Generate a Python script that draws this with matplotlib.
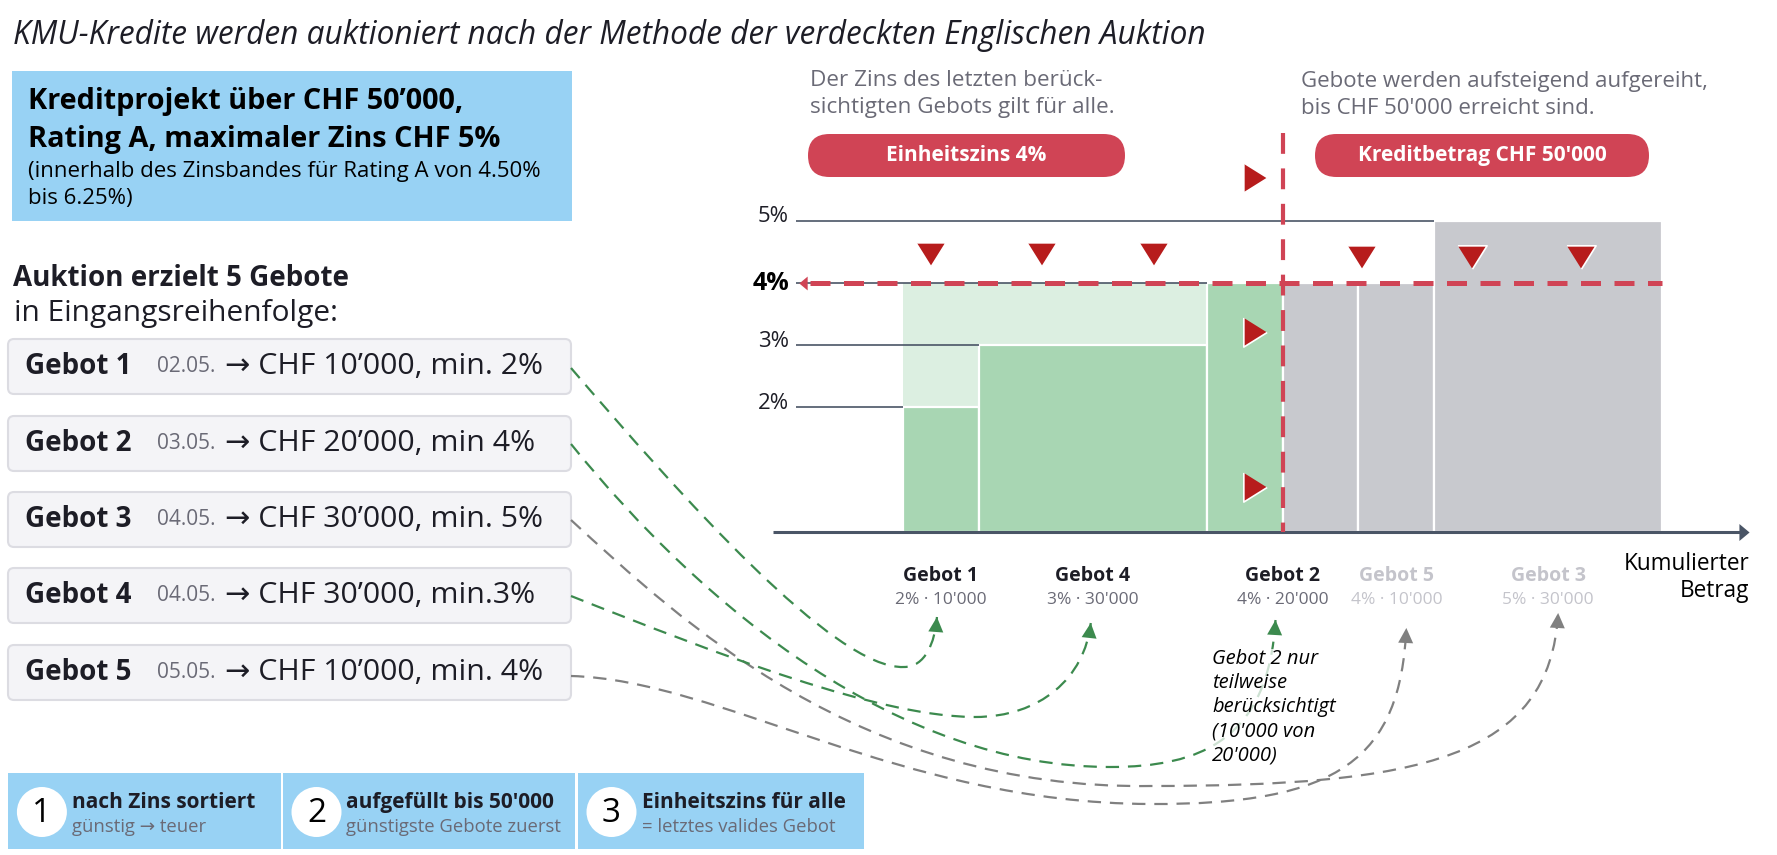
import matplotlib
matplotlib.use('Agg')
import matplotlib.pyplot as plt
import matplotlib.transforms as mtransforms
from matplotlib.patches import FancyBboxPatch, Rectangle, Circle, PathPatch, Polygon
from matplotlib.path import Path
import numpy as np

plt.rcParams['font.family'] = ['Open Sans', 'DejaVu Sans']

# ─────────────────────────────────────────────
# DATA
# ─────────────────────────────────────────────
bid_names   = ['Gebot 1', 'Gebot 2', 'Gebot 3', 'Gebot 4', 'Gebot 5']
bid_dates   = ['02.05.', '03.05.', '04.05.', '04.05.', '05.05.']
bid_amounts = [10000, 20000, 30000, 30000, 10000]
bid_rates   = [2, 4, 5, 3, 4]
bid_texts   = ['→ CHF 10’000, min. 2%', '→ CHF 20’000, min 4%',
               '→ CHF 30’000, min. 5%', '→ CHF 30’000, min.3%',
               '→ CHF 10’000, min. 4%']
credit_amount = 50000
rate_ticks = [2, 3, 4, 5]

title = 'KMU-Kredite werden auktioniert nach der Methode der verdeckten Englischen Auktion'
project_lines = ['Kreditprojekt über CHF 50’000,', 'Rating A, maximaler Zins CHF 5%']
project_note = ['(innerhalb des Zinsbandes für Rating A von 4.50%', 'bis 6.25%)']
step_titles = ['nach Zins sortiert', 'aufgefüllt bis 50\'000', 'Einheitszins für alle']
step_notes  = ['günstig → teuer', 'günstigste Gebote zuerst', '= letztes valides Gebot']

# ─────────────────────────────────────────────
# COLOURS / LAYOUT
# ─────────────────────────────────────────────
DARK = '#1d1d26'
GREY_TXT = '#6a6a76'
PALE = '#c4c4cb'
BLUE = '#98d2f4'
GREEN = '#a8d6b3'
LIGHT_GREEN = '#dcefe1'
GREY = '#c8c9ce'
RED = '#d04455'
DARK_RED = '#b71c1c'
AXIS = '#4a5566'
LINE_GREEN = '#3c8a4e'
LINE_GREY = '#808080'

W, H = 1777, 855
X0_PX, PX_PER_CHF = 903, 0.00759
Y0_PX, PX_PER_PCT = 532, 62.3
AX_L, AX_R, AX_T = 773, 1749, 121

fig = plt.figure(figsize=(W / 100, H / 100), dpi=100)
ov = fig.add_axes([0, 0, 1, 1])
ov.set_xlim(0, W)
ov.set_ylim(H, 0)
ov.axis('off')

ax = fig.add_axes([AX_L / W, (H - Y0_PX) / H, (AX_R - AX_L) / W, (Y0_PX - AX_T) / H])
ax.set_xlim((AX_L - X0_PX) / PX_PER_CHF, (AX_R - X0_PX) / PX_PER_CHF)
ax.set_ylim(0, (Y0_PX - AX_T) / PX_PER_PCT)
ax.axis('off')
ax.patch.set_alpha(0)


def chf(px):
    return (px - X0_PX) / PX_PER_CHF


def pct(py):
    return (Y0_PX - py) / PX_PER_PCT


# ─────────────────────────────────────────────
# LEFT PANEL
# ─────────────────────────────────────────────
ov.text(13, 35, title, fontsize=22.8, style='italic', color=DARK, va='center')

ov.add_patch(Rectangle((11.5, 71), 560.5, 150, color=BLUE, lw=0))
ov.text(27.6, 102, project_lines[0], fontsize=20.8, weight='bold', color='black', va='center')
ov.text(27.6, 139, project_lines[1], fontsize=20.8, weight='bold', color='black', va='center')
ov.text(27.6, 172, project_note[0], fontsize=16, color='black', va='center')
ov.text(27.6, 198, project_note[1], fontsize=16, color='black', va='center')

ov.text(13, 278, 'Auktion erzielt 5 Gebote', fontsize=20, weight='bold', color=DARK, va='center')
ov.text(14, 313, 'in Eingangsreihenfolge:', fontsize=21.5, color=DARK, va='center')

box_tops = [339, 416, 492, 568, 645]
box_h = 55
for i, top in enumerate(box_tops):
    ov.add_patch(FancyBboxPatch((8, top), 563, box_h,
                                boxstyle='round,pad=0,rounding_size=6',
                                fc='#f4f4f7', ec='#dcdce2', lw=1.5))
    cy = top + box_h / 2
    ov.text(25, cy, bid_names[i], fontsize=20, weight='bold', color=DARK, va='center')
    ov.text(157, cy, bid_dates[i], fontsize=15, color=GREY_TXT, va='center')
    ov.text(225, cy, bid_texts[i], fontsize=21.8, color=DARK, va='center')

step_boxes = [(8.4, 272.2), (283, 292), (578, 286)]
for k, (bx, bw) in enumerate(step_boxes):
    ov.add_patch(Rectangle((bx, 773), bw, 76, color=BLUE, lw=0))
    ov.add_patch(Circle((bx + 33.5, 812), 25, color='white', lw=0))
    ov.text(bx + 33.5, 813, str(k + 1), fontsize=24, color='black', ha='center', va='center')
    ov.text(bx + 63.5, 802, step_titles[k], fontsize=15, weight='bold', color=DARK, va='center')
    ov.text(bx + 63.5, 827, step_notes[k], fontsize=13.3, color=GREY_TXT, va='center')

# ─────────────────────────────────────────────
# CHART
# ─────────────────────────────────────────────
order = sorted(range(len(bid_names)), key=lambda i: bid_rates[i])
starts, ends = {}, {}
cum = 0
for i in order:
    starts[i] = cum
    cum += bid_amounts[i]
    ends[i] = cum
clearing = next(i for i in order if ends[i] >= credit_amount)
clearing_rate = bid_rates[clearing]

for i in order:
    s, e, r = starts[i], ends[i], bid_rates[i]
    if s < credit_amount:
        a_end = min(e, credit_amount)
        if r < clearing_rate:
            ax.bar(s, clearing_rate - r, width=a_end - s, bottom=r, align='edge',
                   color=LIGHT_GREEN, lw=0, zorder=1)
        ax.bar(s, r, width=a_end - s, align='edge', color=GREEN,
               edgecolor='white', lw=1.6, zorder=2)
    if e > credit_amount:
        g0 = max(s, credit_amount)
        ax.bar(g0, r, width=e - g0, align='edge', color=GREY,
               edgecolor='white', lw=1.6, zorder=2)

# rate lines and labels
line_start = chf(796)
for t in rate_ticks:
    first = min(starts[i] for i in order if bid_rates[i] == t)
    ax.plot([line_start, first], [t, t], color=AXIS, lw=1.2, zorder=3,
            solid_capstyle='butt')
    if t == clearing_rate:
        ax.text(chf(789), t - 0.01, f'{t}%', fontsize=18, weight='bold', color='black',
                ha='right', va='center')
    else:
        ax.text(chf(789), t + 0.06, f'{t}%', fontsize=16, color=DARK,
                ha='right', va='center')

# x axis with arrow
ax.plot([ax.get_xlim()[0], chf(1741)], [0, 0], color=AXIS, lw=2.2, zorder=5,
        solid_capstyle='butt', clip_on=False)
ax.plot([chf(1744)], [0], marker=[(-0.6, 1), (0.6, 0), (-0.6, -1)], ms=12.2,
        color=AXIS, mew=0, zorder=5, clip_on=False)

# red dashed clearing lines
ax.plot([chf(810), max(ends.values())], [clearing_rate] * 2, color=RED, lw=3.6,
        dashes=(4, 2.7), dash_capstyle='butt', zorder=6)
ax.plot([chf(803)], [clearing_rate], marker=[(0.6, 1), (-0.6, 0), (0.6, -1)],
        ms=10, color=RED, mew=0, zorder=6, clip_on=False)
ax.plot([credit_amount] * 2, [pct(133), 0], color=RED, lw=3, dashes=(5, 3.5),
        dash_capstyle='butt', zorder=6)

# decorative triangles
down_x = [chf(p) for p in (931, 1042, 1154, 1362, 1472, 1581)]
ax.plot(down_x, [pct(254)] * 3 + [pct(257)] * 3, ls='none',
        marker=[(-1, 0.8), (1, 0.8), (0, -0.8)], ms=21, color=DARK_RED,
        mec='white', mew=1.2, zorder=7)
ax.plot([chf(1255)] * 3, [pct(178), pct(332), pct(487)], ls='none',
        marker=[(-0.8, 1), (-0.8, -1), (0.8, 0)], ms=21, color=DARK_RED,
        mec='white', mew=1.2, zorder=7)

# headline texts and pills
ov.text(810, 81, 'Der Zins des letzten berück-', fontsize=16.2, color=GREY_TXT, va='center')
ov.text(810, 108, 'sichtigten Gebots gilt für alle.', fontsize=16.2, color=GREY_TXT, va='center')
ov.text(1301, 81, 'Gebote werden aufsteigend aufgereiht,', fontsize=16, color=GREY_TXT, va='center')
ov.text(1301, 108, 'bis CHF 50\'000 erreicht sind.', fontsize=16, color=GREY_TXT, va='center')

pills = [(808, 1125, f'Einheitszins {clearing_rate}%'),
         (1315, 1649, f'Kreditbetrag CHF {credit_amount:,}'.replace(',', "'"))]
for x0, x1, txt in pills:
    ov.add_patch(FancyBboxPatch((x0, 134), x1 - x0, 43,
                                boxstyle='round,pad=0,rounding_size=21.5',
                                fc=RED, ec='none'))
    ov.text((x0 + x1) / 2, 155.5, txt, fontsize=15, weight='bold', color='white',
            ha='center', va='center')

# labels under the axis
lab_tr = mtransforms.blended_transform_factory(ax.transData, ov.transData)
label_px = {}
for i in order:
    cx = (starts[i] + ends[i]) / 2
    ok = starts[i] < credit_amount
    ax.text(cx, 576, bid_names[i], transform=lab_tr, fontsize=14, weight='bold',
            color=DARK if ok else PALE, ha='center', va='center', clip_on=False)
    val = f"{bid_rates[i]}% · {bid_amounts[i]:,}".replace(',', "'")
    ax.text(cx, 600, val, transform=lab_tr, fontsize=12.5,
            color=GREY_TXT if ok else PALE, ha='center', va='center', clip_on=False)
    label_px[i] = ov.transData.inverted().transform(ax.transData.transform((cx, 0)))[0]

ov.text(1749, 564, 'Kumulierter', fontsize=16.3, color='black', ha='right', va='center')
ov.text(1749, 591, 'Betrag', fontsize=16.3, color='black', ha='right', va='center')

# ─────────────────────────────────────────────
# CONNECTORS
# ─────────────────────────────────────────────
tip_dx = [-4, -7, 10, -2, 10]
tip_y  = [617, 620, 613, 623, 628]
curves = [
    [(571, 368), (680, 495), (835, 670), (904, 667), (925, 667)],
    [(571, 444), (705, 610), (900, 767), (1110, 767), (1200, 767)],
    [(571, 520), (680, 620), (860, 790), (1150, 786), (1420, 786)],
    [(571, 596), (720, 655), (880, 717), (975, 717), (1040, 717)],
    [(571, 676), (720, 680), (900, 803), (1150, 804), (1340, 805)],
]
last_ctrl = [(-2, 26), (-7, 120), (-8, 145), (-6, 55), (-6, 130)]

for i in range(len(bid_names)):
    accepted = starts[i] < credit_amount
    col = LINE_GREEN if accepted else LINE_GREY
    tip = (label_px[i] + tip_dx[i], tip_y[i])
    c2 = (tip[0] + last_ctrl[i][0], tip[1] + last_ctrl[i][1])
    pts = curves[i] + [c2, tip]
    codes = [Path.MOVETO] + [Path.CURVE4] * 6
    ov.add_patch(PathPatch(Path(pts, codes), fill=False, ec=col, lw=1.6,
                           ls=(0, (6, 4)), zorder=2))
    d = np.array(tip) - np.array(c2)
    d = d / np.hypot(*d)
    n = np.array([-d[1], d[0]])
    base = np.array(tip) - d * 15
    ov.add_patch(Polygon([tip, base + n * 7.5, base - n * 7.5], closed=True,
                         color=col, lw=0, zorder=3))

ov.text(1212, 649, 'Gebot 2 nur\nteilweise\nberücksichtigt\n(10\'000 von\n20\'000)',
        fontsize=14.5, style='italic', color='black', va='top', linespacing=1.28,
        zorder=4, bbox=dict(fc='white', ec='none', alpha=0.75, pad=0))

fig.savefig('out.png', dpi=100)
